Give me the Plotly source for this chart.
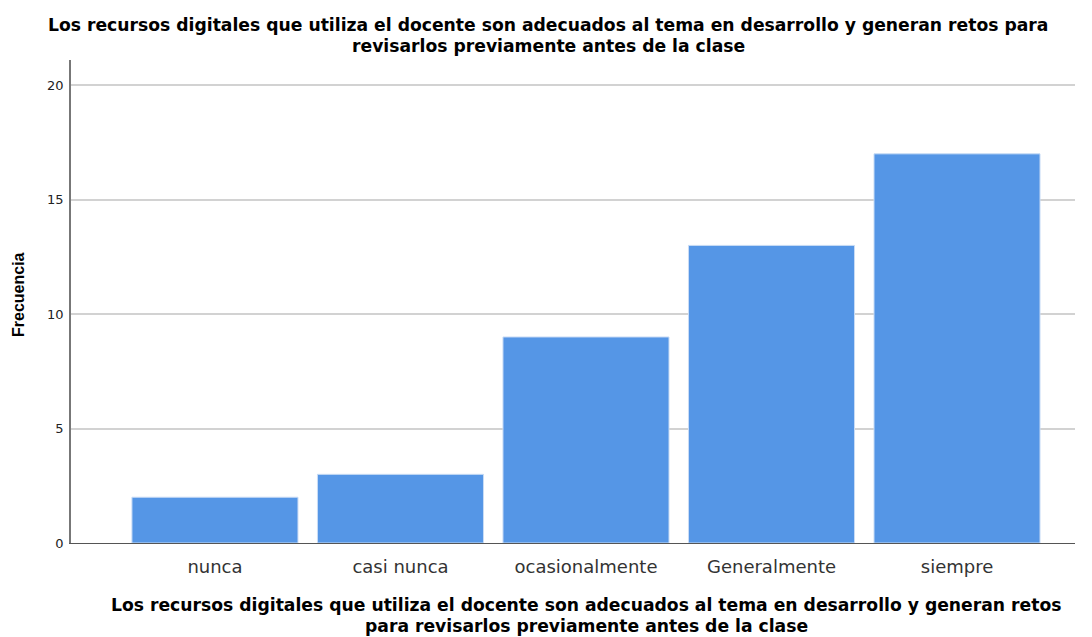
import plotly.graph_objects as go

# categorias y frecuencias
categorias = ["nunca", "casi nunca", "ocasionalmente", "Generalmente", "siempre"]
frecuencias = [2, 3, 9, 13, 17]
y_ticks = [0, 5, 10, 15, 20]

titulo = ["Los recursos digitales que utiliza el docente son adecuados al tema en desarrollo y generan retos para",
          "revisarlos previamente antes de la clase"]
titulo_x = ["Los recursos digitales que utiliza el docente son adecuados al tema en desarrollo y generan retos",
            "para revisarlos previamente antes de la clase"]

# la pagina html deja 8px de margen en el body
OFF = 8
W, H = 1092 - OFF, 637 - OFF
L, R, T = 71 - OFF, 17, 60 - OFF
B = H - T - 483
PW, PH = W - L - R, H - T - B


def px_x(x):
    return (x - OFF - L) / PW


def px_y(y):
    return (H - B - (y - OFF)) / PH


fig = go.Figure(go.Bar(
    x=categorias,
    y=frecuencias,
    marker=dict(color="#5596e6", line=dict(color="#c9dcf5", width=1)),
    width=0.895,
))

fig.update_layout(
    width=W, height=H,
    margin=dict(l=L, r=R, t=T, b=B),
    plot_bgcolor="white",
    paper_bgcolor="white",
    showlegend=False,
    font=dict(family="DejaVu Sans, sans-serif", color="#222"),
)

fig.update_xaxes(
    range=[-0.776, 4.636],
    showgrid=False,
    showline=True, linecolor="#555", linewidth=1.2,
    ticks="", tickfont=dict(size=18, color="#333"),
    ticklabelstandoff=7,
)
fig.update_yaxes(
    range=[0, 21.1],
    tickvals=y_ticks,
    showgrid=True, gridcolor="#d2d2d2", gridwidth=1.5,
    showline=True, linecolor="#777", linewidth=1.5,
    ticks="", tickfont=dict(size=13, color="#222"),
    ticklabelstandoff=3,
    zeroline=False,
)

bold = dict(family="DejaVu Sans, sans-serif", size=17.2, color="#000", weight="bold")

# titulo principal (una anotacion por linea)
for linea, yc in zip(titulo, [25, 46]):
    fig.add_annotation(
        text=linea, xref="paper", yref="paper",
        x=px_x(548), y=px_y(yc),
        xanchor="center", yanchor="middle", showarrow=False, font=bold,
    )
# titulo eje x
for linea, yc in zip(titulo_x, [605, 626]):
    fig.add_annotation(
        text=linea, xref="paper", yref="paper",
        x=px_x(586), y=px_y(yc),
        xanchor="center", yanchor="middle", showarrow=False, font=bold,
    )
# titulo eje y
fig.add_annotation(
    text="Frecuencia", xref="paper", yref="paper",
    x=px_x(18), y=px_y(295),
    xanchor="center", yanchor="middle", showarrow=False, textangle=-90,
    font=dict(family="Liberation Sans, Arial, sans-serif", size=16, color="#000", weight="bold"),
)

fig.write_html("out.html")
